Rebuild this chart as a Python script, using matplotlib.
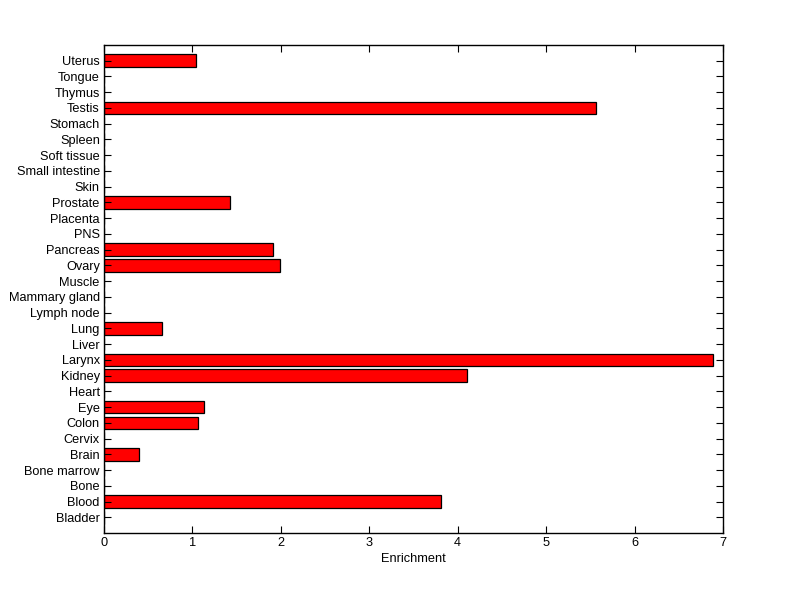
import matplotlib
matplotlib.use('Agg')
import matplotlib.pyplot as plt
import numpy as np

# tissues, bottom to top
tissues = ['Bladder', 'Blood', 'Bone', 'Bone marrow', 'Brain', 'Cervix', 'Colon',
           'Eye', 'Heart', 'Kidney', 'Larynx', 'Liver', 'Lung', 'Lymph node',
           'Mammary gland', 'Muscle', 'Ovary', 'Pancreas', 'PNS', 'Placenta',
           'Prostate', 'Skin', 'Small intestine', 'Soft tissue', 'Spleen',
           'Stomach', 'Testis', 'Thymus', 'Tongue', 'Uterus']
enrichment = [0, 3.81, 0, 0, 0.40, 0, 1.06,
              1.13, 0, 4.10, 6.89, 0, 0.66, 0,
              0, 0, 1.99, 1.91, 0, 0,
              1.42, 0, 0, 0, 0,
              0, 5.56, 0, 0, 1.04]
xticks = [0, 1, 2, 3, 4, 5, 6, 7]

plt.rcParams['font.family'] = ['Liberation Sans', 'DejaVu Sans']
plt.rcParams['font.size'] = 9

fig = plt.figure(figsize=(8, 5.99), dpi=100)
ax = fig.add_axes([104 / 800, 1 - 533 / 599, (723 - 104) / 800, (533 - 45) / 599])

pos = np.arange(1, len(tissues) + 1)
ax.barh(pos, enrichment, height=0.8, color='#ff0000', edgecolor='black', linewidth=0.9)

ax.set_xlim(0, 7)
ax.set_ylim(0, len(tissues) + 1)
ax.set_xticks(xticks)
ax.set_yticks(pos)
ax.set_yticklabels(tissues)
ax.set_xlabel('Enrichment', labelpad=3, fontsize=9.2)

ax.tick_params(direction='in', top=True, right=True, length=5, width=0.8, pad=3, labelsize=9.2)
for s in ax.spines.values():
    s.set_linewidth(1)

fig.savefig('out.png', dpi=100, facecolor='white')
